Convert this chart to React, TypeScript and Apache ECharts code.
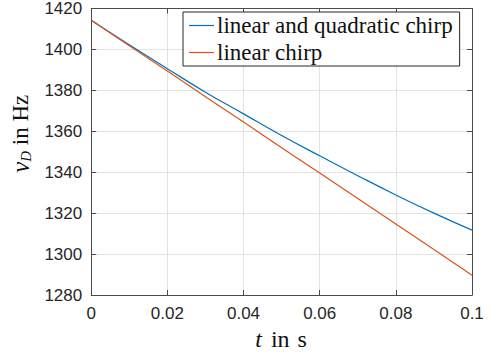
import React, { useEffect, useRef } from "react";
import * as echarts from "echarts";

const tValues = [0, 0.01, 0.02, 0.03, 0.04, 0.05, 0.06, 0.07, 0.08, 0.09, 0.1];
const quadChirp = [1414.3, 1402.3, 1390.6, 1379.1, 1368.5, 1357.9, 1348.0, 1338.3, 1328.9, 1320.0, 1311.7];
const linChirp = [1414.3, 1401.8, 1389.4, 1376.9, 1364.5, 1352.0, 1339.6, 1327.1, 1314.7, 1302.2, 1289.7];
const seriesNames = ["linear and quadratic chirp", "linear chirp"];
const seriesColors = ["#0072BD", "#D95319"];

const AXIS_COLOR = "#4a4a4a";
const TEXT_COLOR = "#262626";
const SANS = "'Liberation Sans', Arial, Helvetica, sans-serif";
const SERIF = "'Liberation Serif', 'Times New Roman', serif";

export default function App() {
  const ref = useRef<HTMLDivElement>(null);
  useEffect(() => {
    document.body.style.margin = "0";
    const chart = echarts.init(ref.current!, undefined, { renderer: "svg" });
    const tickCommon = { show: true, inside: true, length: 5, lineStyle: { color: AXIS_COLOR, width: 1 } };
    const lineCommon = { show: true, onZero: false, lineStyle: { color: AXIS_COLOR, width: 1 } };
    chart.setOption({
      animation: false,
      backgroundColor: "#ffffff",
      grid: { left: 91, right: 18, top: 4, bottom: 59, containLabel: false },
      legend: {
        orient: "vertical",
        left: 183,
        top: 12,
        padding: [2, 7, 2, 6],
        itemWidth: 25,
        itemHeight: 1.2,
        itemGap: 4,
        icon: "rect",
        backgroundColor: "#ffffff",
        borderColor: "#262626",
        borderWidth: 1,
        borderRadius: 0,
        textStyle: { fontFamily: SERIF, fontSize: 23, lineHeight: 20, color: "#111", padding: [0, 0, 0, -2] },
        data: seriesNames,
      },
      xAxis: [
        {
          type: "value",
          min: 0,
          max: 0.1,
          interval: 0.02,
          position: "bottom",
          axisLine: lineCommon,
          axisTick: tickCommon,
          axisLabel: {
            color: TEXT_COLOR,
            fontFamily: SANS,
            fontSize: 17,
            margin: 10,
            formatter: (v: number) => String(Math.round(v * 100) / 100),
          },
          splitLine: { show: true, lineStyle: { color: "#e3e3e3", width: 1 } },
          name: "{i|t} {n|in} {n|s}",
          nameLocation: "middle",
          nameGap: 32,
          nameTextStyle: {
            fontFamily: SERIF,
            fontSize: 24,
            color: "#111",
            rich: {
              i: { fontFamily: SERIF, fontStyle: "italic", fontSize: 24, color: "#111", padding: [0, 2, 0, 0] },
              n: { fontFamily: SERIF, fontSize: 24, color: "#111", padding: [0, 1, 0, 1] },
            },
          },
        },
        {
          type: "value",
          min: 0,
          max: 0.1,
          interval: 0.02,
          position: "top",
          axisLine: lineCommon,
          axisTick: tickCommon,
          axisLabel: { show: false },
          splitLine: { show: false },
        },
      ],
      yAxis: [
        {
          type: "value",
          min: 1280,
          max: 1420,
          interval: 20,
          position: "left",
          axisLine: lineCommon,
          axisTick: tickCommon,
          axisLabel: {
            color: TEXT_COLOR,
            fontFamily: SANS,
            fontSize: 17,
            margin: 9,
            formatter: (v: number) => String(v),
          },
          splitLine: { show: true, lineStyle: { color: "#e3e3e3", width: 1 } },
          name: "{i|ν}{sub|D}{n| in Hz}",
          nameLocation: "middle",
          nameGap: 50,
          nameTextStyle: {
            fontFamily: SERIF,
            fontSize: 23,
            color: "#111",
            padding: [0, 0, 0, 36],
            rich: {
              i: { fontFamily: SERIF, fontStyle: "italic", fontSize: 25, color: "#111", lineHeight: 26 },
              sub: { fontFamily: SERIF, fontStyle: "italic", fontSize: 15, color: "#111", verticalAlign: "bottom", lineHeight: 14 },
              n: { fontFamily: SERIF, fontSize: 23, color: "#111", lineHeight: 26 },
            },
          },
        },
        {
          type: "value",
          min: 1280,
          max: 1420,
          interval: 20,
          position: "right",
          axisLine: lineCommon,
          axisTick: tickCommon,
          axisLabel: { show: false },
          splitLine: { show: false },
        },
      ],
      series: [
        {
          name: seriesNames[0],
          type: "line",
          xAxisIndex: 0,
          yAxisIndex: 0,
          data: tValues.map((t, i) => [t, quadChirp[i]]),
          symbol: "none",
          smooth: true,
          lineStyle: { color: seriesColors[0], width: 1.2 },
          itemStyle: { color: seriesColors[0] },
          z: 3,
        },
        {
          name: seriesNames[1],
          type: "line",
          xAxisIndex: 0,
          yAxisIndex: 0,
          data: tValues.map((t, i) => [t, linChirp[i]]),
          symbol: "none",
          lineStyle: { color: seriesColors[1], width: 1.2 },
          itemStyle: { color: seriesColors[1] },
          z: 4,
        },
      ],
    });
    return () => chart.dispose();
  }, []);
  return <div ref={ref} style={{ width: 490, height: 356 }} />;
}
